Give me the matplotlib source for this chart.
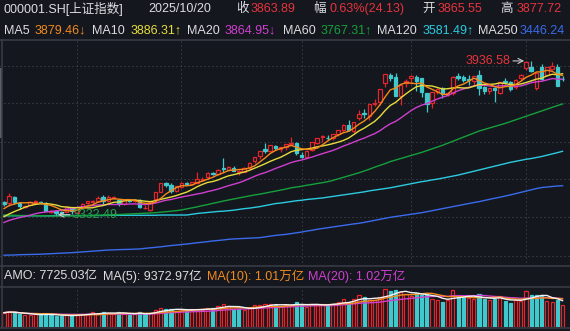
import numpy as np
import pandas as pd
import matplotlib
matplotlib.use("Agg")
import matplotlib.pyplot as plt
from matplotlib.patches import Rectangle
from matplotlib.lines import Line2D

# ---------------- data ----------------
days_may = [13, 14, 15, 16, 19, 20, 21, 22, 23, 26, 27, 28, 29, 30]
days_jun = [3, 4, 5, 6, 9, 10, 11, 12, 13, 16, 17, 18, 19, 20, 23, 24, 25, 26, 27, 30]
days_jul = [1, 2, 3, 4, 7, 8, 9, 10, 11, 14, 15, 16, 17, 18, 21, 22, 23, 24, 25, 28, 29, 30, 31]
days_aug = [1, 4, 5, 6, 7, 8, 11, 12, 13, 14, 15, 18, 19, 20, 21, 22, 25, 26, 27, 28, 29]
days_sep = [1, 2, 3, 4, 5, 8, 9, 10, 11, 12, 15, 16, 17, 18, 19, 22, 23, 24, 25, 26, 29, 30]
days_oct = [9, 10, 13, 14, 15, 16, 17, 20]

prior_close = [3238.23, 3262.81, 3267.66, 3276.00, 3280.34, 3276.73, 3291.43, 3299.76,
               3296.36, 3297.29, 3295.06, 3288.41, 3286.65, 3279.03, 3316.11, 3342.67,
               3352.00, 3342.00, 3369.24]

opens = [3383, 3377, 3401, 3377, 3362, 3372, 3381, 3383, 3380, 3344, 3348, 3342, 3344, 3360,
         3340, 3361, 3379, 3382, 3387, 3400, 3386, 3399, 3389, 3375, 3390, 3386, 3390, 3358, 3350, 3392,
         3422, 3455, 3449, 3424,
         3441, 3457, 3452, 3457, 3467, 3480, 3496, 3491, 3514, 3506, 3517, 3502, 3500, 3516, 3545, 3562,
         3590, 3581, 3604, 3590, 3598, 3612, 3614,
         3566, 3560, 3585, 3616, 3636, 3636, 3634, 3649, 3665, 3684, 3662, 3712, 3731, 3721, 3769, 3776,
         3848, 3882, 3872, 3800, 3848,
         3868, 3874, 3868, 3809, 3770, 3815, 3830, 3804, 3809, 3878, 3874, 3866, 3858, 3881, 3835, 3819,
         3830, 3810, 3856, 3855, 3836, 3870,
         3907, 3912, 3830, 3911, 3880, 3904, 3913, 3865.55]
highs = [3386, 3418, 3404, 3381, 3372, 3385, 3391, 3387, 3383, 3352, 3350, 3348, 3365, 3361,
         3365, 3378, 3388, 3390, 3404, 3410, 3410, 3404, 3392, 3392, 3392, 3394, 3392, 3372, 3383, 3422,
         3458, 3459, 3455, 3445,
         3460, 3462, 3462, 3500, 3479, 3499, 3499, 3511, 3556, 3522, 3522, 3507, 3518, 3538, 3560, 3582,
         3613, 3606, 3608, 3598, 3610, 3636, 3618,
         3579, 3584, 3618, 3634, 3645, 3645, 3648, 3666, 3688, 3704, 3697, 3745, 3746, 3767, 3788, 3826,
         3884, 3888, 3888, 3845, 3866,
         3881, 3883, 3870, 3812, 3814, 3832, 3834, 3816, 3876, 3891, 3880, 3880, 3877, 3900, 3837, 3830,
         3835, 3855, 3871, 3856, 3865, 3885,
         3936.58, 3936, 3894, 3924, 3913, 3931, 3925, 3877.72]
lows = [3365, 3368, 3374, 3354, 3357, 3370, 3373, 3373, 3346, 3338, 3332.49, 3336, 3343, 3335,
        3338, 3361, 3375, 3378, 3384, 3371, 3384, 3392, 3367, 3372, 3381, 3381, 3358, 3355, 3348, 3390,
        3420, 3440, 3418, 3422,
        3438, 3448, 3450, 3455, 3465, 3473, 3487, 3489, 3500, 3503, 3503, 3490, 3499, 3512, 3535, 3552,
        3574, 3578, 3586, 3580, 3588, 3608, 3567,
        3557, 3559, 3584, 3612, 3619, 3626, 3626, 3642, 3657, 3663, 3654, 3706, 3714, 3706, 3758, 3762,
        3836, 3859, 3800, 3762, 3834,
        3845, 3820, 3796, 3735, 3750, 3806, 3791, 3800, 3804, 3861, 3852, 3842, 3840, 3804, 3808, 3805,
        3777, 3806, 3847, 3820, 3828, 3860,
        3901, 3893, 3821, 3862, 3878, 3901, 3839, 3856]
closes = [3374.87, 3403.95, 3380.82, 3367.46, 3367.58, 3380.48, 3387.57, 3380.19, 3348.37, 3346.84,
          3340.69, 3339.93, 3363.45, 3347.49,
          3361.98, 3376.20, 3384.82, 3385.36, 3399.77, 3384.82, 3402.32, 3402.66, 3377.00, 3388.73,
          3387.40, 3388.81, 3362.11, 3359.90, 3381.58, 3420.57, 3455.97, 3448.45, 3424.23, 3444.43,
          3457.75, 3454.79, 3461.15, 3472.32, 3473.13, 3497.48, 3493.05, 3509.68, 3510.18, 3519.65,
          3505.00, 3503.78, 3516.83, 3534.48, 3559.79, 3581.86, 3582.30, 3605.73, 3593.66, 3597.94,
          3609.71, 3615.72, 3573.21,
          3559.95, 3583.31, 3617.60, 3633.99, 3639.67, 3635.13, 3647.55, 3665.92, 3683.46, 3666.44,
          3696.77, 3728.03, 3727.29, 3766.21, 3771.10, 3825.76, 3883.56, 3868.38, 3800.35, 3843.60,
          3857.93,
          3875.53, 3858.13, 3813.56, 3765.88, 3812.51, 3826.84, 3807.29, 3812.22, 3875.31, 3870.60,
          3860.50, 3861.87, 3876.34, 3831.66, 3820.09, 3828.58, 3821.83, 3853.64, 3853.30, 3828.11,
          3862.53, 3882.78,
          3933.97, 3897.03, 3889.50, 3865.23, 3912.21, 3916.23, 3839.76, 3863.89]
prev_close0 = 3369.24

amount = [5100, 5500, 5200, 4500, 4200, 4300, 4600, 4500, 4800, 4100, 3900, 3800, 4300, 4300,
          4400, 4500, 4700, 5200, 4700, 5300, 5000, 4600, 5400, 4800, 4400, 4500, 5300, 4700, 4900, 6000,
          6800, 6500, 6300, 5800,
          6000, 6200, 6300, 6500, 6100, 6700, 6600, 7600, 8100, 7600, 6500, 6500, 6000, 6600, 7700, 7800,
          8200, 8200, 7800, 7500, 8000, 7800, 8900,
          7900, 7200, 8200, 8000, 8200, 7700, 8200, 9000, 9800, 8800, 9900, 11300, 10700, 9600, 9600,
          10600, 13400, 12700, 13200, 12600, 11600,
          11000, 12200, 11500, 11400, 10000, 9500, 8800, 9600, 13000, 11200, 10600, 10300, 9900, 11600,
          10100, 9700, 9800, 10900, 9200, 8600, 9500, 9300,
          12700, 11400, 11235, 11500, 9300, 8900, 9440, 7725.03]

ma60 = [3331, 3330, 3330, 3329, 3329, 3329, 3328, 3328, 3328, 3327, 3327, 3327, 3327, 3328, 3328,
        3329, 3329, 3330, 3330, 3331, 3331,
        3332, 3333, 3334, 3335, 3336, 3337, 3338, 3339, 3340,
        3342, 3344, 3346, 3348, 3351, 3355, 3359, 3363,
        3368, 3372, 3377, 3381, 3386, 3390, 3394, 3398, 3402, 3406, 3410, 3413,
        3417, 3421, 3425, 3429, 3433, 3438, 3441, 3444, 3448, 3451, 3455, 3458, 3462,
        3467, 3473, 3479, 3485, 3491, 3497, 3504, 3511, 3519, 3526, 3533, 3541,
        3547, 3553, 3559, 3565, 3571, 3577, 3584, 3591, 3598, 3605, 3613,
        3621, 3629, 3637, 3645, 3653, 3661, 3667, 3673, 3679, 3685, 3691, 3698,
        3705, 3712, 3719, 3726, 3733, 3740, 3747, 3754, 3761, 3767.31]
ma120 = [3328] * 10 + [3329] * 10 + [3330] * 10 + [3331] * 6 + [
    3334, 3337,
    3339, 3341, 3343, 3345, 3346, 3348, 3350, 3353, 3356, 3358, 3361, 3364,
    3368, 3372, 3376, 3378, 3381, 3384, 3387, 3389, 3392, 3394, 3396, 3398, 3401,
    3404, 3407, 3410, 3413, 3416, 3419, 3422, 3426, 3429, 3432, 3435, 3438,
    3442, 3446, 3450, 3454, 3458, 3462, 3465, 3469, 3472, 3476, 3480,
    3484, 3488, 3493, 3498, 3503, 3508, 3513, 3518, 3523, 3528, 3533, 3538,
    3542, 3546, 3550, 3553, 3557, 3561, 3566, 3571, 3576, 3581.49]
ma250 = [3173, 3173.5, 3174, 3175, 3175.5, 3176, 3176.5, 3177, 3178,
         3179, 3180, 3181, 3182, 3183, 3184.5, 3186, 3187.5, 3189, 3190.5, 3192, 3193.5,
         3194, 3195, 3195.5, 3196, 3197, 3197.5, 3200, 3202, 3204, 3206, 3208.5,
         3211, 3213, 3215, 3217, 3219.5, 3222, 3224, 3226.5, 3229, 3231, 3233, 3235.5,
         3237, 3238, 3239, 3240, 3241, 3242, 3245, 3248, 3251, 3253, 3255, 3258,
         3261, 3264, 3268, 3271, 3275, 3278, 3281, 3284, 3287, 3290, 3293, 3296, 3298.5,
         3302, 3306, 3310, 3314, 3318, 3322, 3325, 3328, 3331, 3334, 3337, 3340,
         3344, 3348, 3352, 3356, 3360, 3364, 3368, 3372, 3376, 3380, 3383.5,
         3388, 3392.5, 3397, 3401, 3405.5, 3410, 3415, 3420, 3425, 3430, 3435, 3439,
         3441, 3443, 3445, 3446.24]

# ---------------- derived ----------------
month_lens = [len(days_may), len(days_jun), len(days_jul), len(days_aug), len(days_sep), len(days_oct)]
n = len(closes)
idx = np.arange(n)
all_close = pd.Series(prior_close + closes)
ma5 = all_close.rolling(5).mean().values[len(prior_close):]
ma10 = all_close.rolling(10).mean().values[len(prior_close):]
ma20 = all_close.rolling(20).mean().values[len(prior_close):]
amt = pd.Series(amount)
vma5 = amt.rolling(5, min_periods=1).mean().values
vma10 = amt.rolling(10, min_periods=1).mean().values
vma20 = amt.rolling(20, min_periods=1).mean().values
month_starts = np.cumsum([0] + month_lens[:-1])[1:]

# ---------------- style ----------------
W, H = 570, 331
BG = "#14171e"
RED = "#e3262b"
CYAN = "#3fc9cc"
WHITE = "#dcdde0"
TRED = "#e8333c"
C_MA5 = "#f38a1c"
C_MA10 = "#e6dc3c"
C_MA20 = "#d03fd0"
C_MA60 = "#16a03c"
C_MA120 = "#2ccbe0"
C_MA250 = "#3a6bec"
GRID = "#4c4f57"
SEP = "#3b3e46"
FONT = ["Liberation Sans", "Noto Sans CJK SC", "DejaVu Sans"]
FS = 9.0

fig = plt.figure(figsize=(W / 100, H / 100), dpi=100, facecolor=BG)


def px_axes(x0, y0, x1, y1):
    a = fig.add_axes([x0 / W, 1 - y1 / H, (x1 - x0) / W, (y1 - y0) / H])
    a.set_facecolor(BG)
    for s in a.spines.values():
        s.set_visible(False)
    a.set_xticks([])
    a.set_yticks([])
    return a


STEP = 5.22
X0 = 4.0
xlim = (-X0 / STEP, (W - X0) / STEP)

# main price axes
ax = px_axes(0, 41, W, 266)
ax.set_xlim(*xlim)
ax.set_ylim(3130.65, 4014.9)
for f in [0.890, 0.723, 0.552, 0.385, 0.216, 0.046]:
    ax.plot([0, 1], [f, f], transform=ax.transAxes, color=GRID, lw=0.72,
            dashes=(1, 3), zorder=0)
for m in month_starts:
    ax.axvline(m, color=GRID, lw=0.72, dashes=(1, 3), zorder=0)

ax.plot(idx, ma250, color=C_MA250, lw=1.0, zorder=2)
ax.plot(idx, ma120, color=C_MA120, lw=1.0, zorder=2)
ax.plot(idx, ma60, color=C_MA60, lw=1.0, zorder=2)

bw = 0.66
for i in range(n):
    o, h, l, c = opens[i], highs[i], lows[i], closes[i]
    up = c >= o
    col = RED if up else CYAN
    ax.vlines(i, l, h, color=col, lw=0.9, zorder=3)
    lo, hi = min(o, c), max(o, c)
    if hi - lo < 1.2:
        ax.hlines((o + c) / 2, i - bw / 2, i + bw / 2, color=col, lw=1.0, zorder=4)
    else:
        ax.add_patch(Rectangle((i - bw / 2, lo), bw, hi - lo,
                               facecolor=BG if up else CYAN, edgecolor=col, lw=0.9, zorder=4))

ax.plot(idx, ma20, color=C_MA20, lw=1.0, zorder=5)
ax.plot(idx, ma10, color=C_MA10, lw=1.0, zorder=5)
ax.plot(idx, ma5, color=C_MA5, lw=1.0, zorder=5)

imax = int(np.argmax(highs))
imin = int(np.argmin(lows))
ax.annotate(f"{highs[imax]:.2f}", xy=(imax - 0.35, highs[imax]), xytext=(-14, 0),
            textcoords="offset pixels", ha="right", va="center", color=TRED,
            fontsize=FS, family=FONT,
            arrowprops=dict(arrowstyle="->", color="#c9c9c9", lw=0.8,
                            shrinkA=0, shrinkB=0), zorder=6)
ax.annotate(f"{lows[imin]:.2f}", xy=(imin + 0.3, lows[imin]), xytext=(15, 0),
            textcoords="offset pixels", ha="left", va="center", color="#25a24a",
            fontsize=FS, family=FONT,
            arrowprops=dict(arrowstyle="->", color="#c9c9c9", lw=0.8,
                            shrinkA=0, shrinkB=0), zorder=6)

# volume axes
vax = px_axes(0, 287, W, 327)
vax.set_xlim(*xlim)
vax.set_ylim(0, 14240)
for m in month_starts:
    vax.axvline(m, color=GRID, lw=0.72, dashes=(1, 3), zorder=0)
vbw = 0.6
prev = [prev_close0] + closes[:-1]
for i in range(n):
    up = closes[i] >= prev[i]
    col = RED if up else CYAN
    vax.add_patch(Rectangle((i - vbw / 2, 0), vbw, amount[i],
                            facecolor=BG if up else CYAN, edgecolor=col, lw=0.9, zorder=2))
vax.plot(idx, vma20, color=C_MA20, lw=1.0, zorder=3)
vax.plot(idx, vma10, color=C_MA5, lw=1.0, zorder=3)
vax.plot(idx, vma5, color="#f2f2f2", lw=1.0, zorder=3)

# separator lines
for yy in [40, 266, 287, 328]:
    fig.add_artist(Line2D([0, 1], [1 - yy / H, 1 - yy / H], color=SEP, lw=1.1))
fig.add_artist(Line2D([2 / W, 2 / W], [1 - 40 / H, 1 - 328 / H], color=SEP, lw=1.1))
fig.add_artist(Rectangle((0, 1 - 138 / H), 1.5 / W, 70 / H, facecolor="#5b5e66",
                         edgecolor="none", transform=fig.transFigure))


def txt(x, y, s, color=WHITE):
    fig.text(x / W, 1 - y / H, s, color=color, fontsize=FS, family=FONT,
             ha="left", va="center")


row1 = [(4, "000001.SH[上证指数]", WHITE), (148, "2025/10/20", WHITE),
        (236, "收", WHITE), (251, "3863.89", TRED),
        (313, "幅", WHITE), (329, "0.63%(24.13)", TRED),
        (422, "开", WHITE), (438, "3865.55", TRED),
        (500, "高", WHITE), (517, "3877.72", TRED)]
for x, s, c in row1:
    txt(x, 9, s, c)

row2 = [(4, "MA5", WHITE), (35, "3879.46↓", C_MA5),
        (92, "MA10", WHITE), (131, "3886.31↑", C_MA10),
        (187, "MA20", WHITE), (225, "3864.95↓", C_MA20),
        (283, "MA60", WHITE), (321, "3767.31↑", C_MA60),
        (377, "MA120", WHITE), (423, "3581.49↑", C_MA120),
        (478, "MA250", WHITE), (520, "3446.24", C_MA250)]
for x, s, c in row2:
    txt(x, 30.5, s, c)

row3 = [(4, "AMO: 7725.03亿", WHITE), (103, "MA(5): 9372.97亿", WHITE),
        (207, "MA(10): 1.01万亿", C_MA5), (308, "MA(20): 1.02万亿", C_MA20)]
for x, s, c in row3:
    txt(x, 276.5, s, c)

fig.savefig("out.png", dpi=100, facecolor=BG)
